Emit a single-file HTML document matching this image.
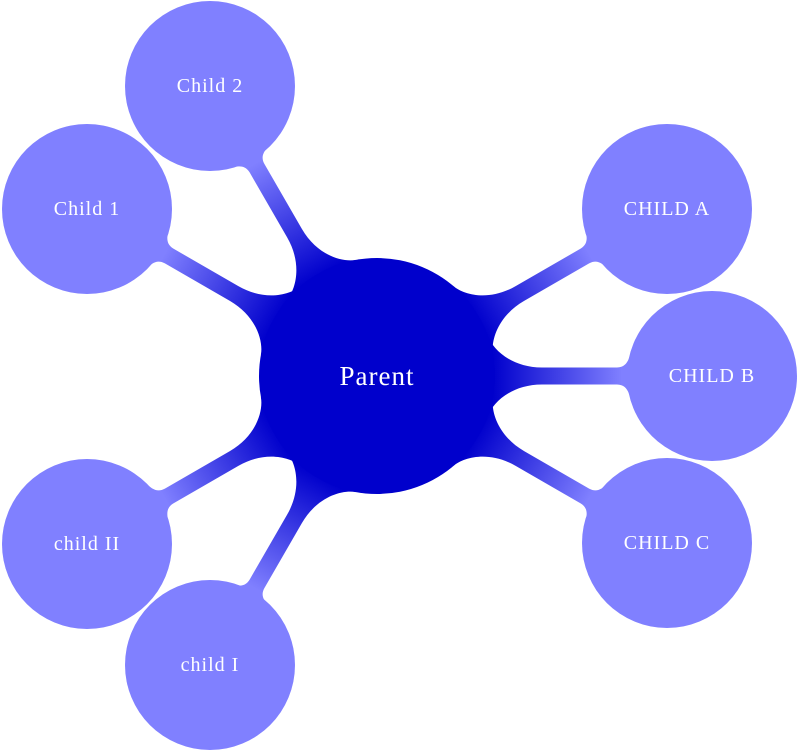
<!DOCTYPE html>
<html><head><meta charset="utf-8"><style>
html,body{margin:0;padding:0;background:#fff;}
svg{display:block;}
text{font-family:"Liberation Serif",serif;fill:#fff;text-anchor:middle;dominant-baseline:central;}
</style></head><body>
<svg width="798" height="753" viewBox="0 0 798 753">
<defs>
<linearGradient id="g" gradientUnits="userSpaceOnUse" x1="115" y1="0" x2="245" y2="0">
<stop offset="0" stop-color="#0000cc"/><stop offset="1" stop-color="#8080ff"/>
</linearGradient>
<path id="c" d="M0,0 L111,-40 C116,-26 135,-8.5 165,-8.5 L240,-8.5 C256,-9 250,-28 264,-36 L264,36 C250,28 256,9 240,8.5 L165,8.5 C135,8.5 116,26 111,40 Z" fill="url(#g)"/>
</defs>
<g transform="translate(377,376)">
<use href="#c" transform="rotate(0)"/>
<use href="#c" transform="rotate(-30)"/>
<use href="#c" transform="rotate(30)"/>
<use href="#c" transform="rotate(-120)"/>
<use href="#c" transform="rotate(-150)"/>
<use href="#c" transform="rotate(150)"/>
<use href="#c" transform="rotate(120)"/>
</g>
<circle cx="377" cy="376" r="118" fill="#0000cc"/>
<g fill="#8080ff">
<circle cx="210" cy="86" r="85"/>
<circle cx="87" cy="209" r="85"/>
<circle cx="87" cy="544" r="85"/>
<circle cx="210" cy="665" r="85"/>
<circle cx="667" cy="209" r="85"/>
<circle cx="712" cy="376" r="85"/>
<circle cx="667" cy="543" r="85"/>
</g>
<text x="377" y="376" font-size="27" letter-spacing="1">Parent</text>
<g font-size="20" letter-spacing="1">
<text x="210" y="86">Child 2</text>
<text x="87" y="209">Child 1</text>
<text x="87" y="544">child II</text>
<text x="210" y="665">child I</text>
<text x="667" y="209">CHILD A</text>
<text x="712" y="376">CHILD B</text>
<text x="667" y="543">CHILD C</text>
</g>
</svg>
</body></html>
